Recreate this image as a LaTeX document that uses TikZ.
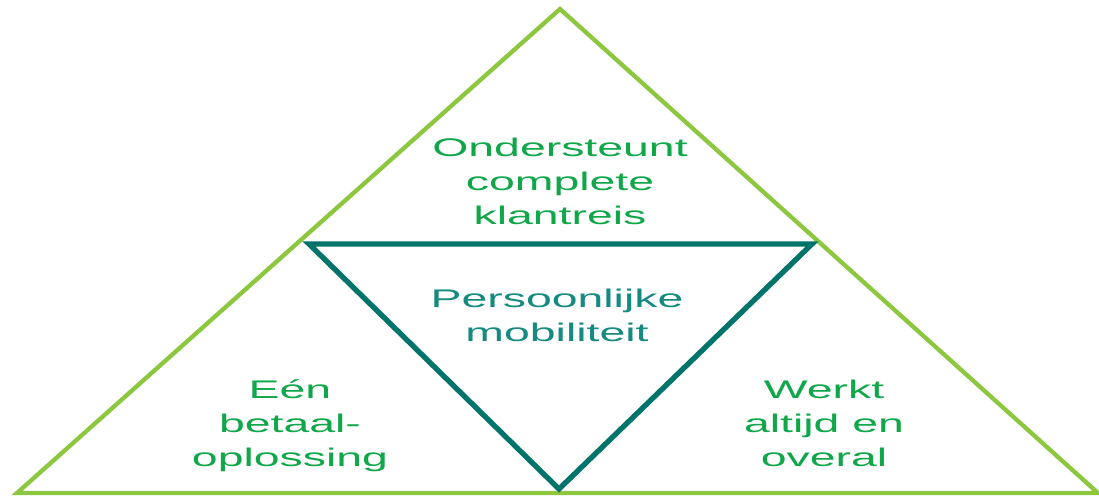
\documentclass[tikz,border=0pt]{standalone}
\usepackage{fontspec}
\setmainfont{Liberation Sans}
\newfontfamily\widefont[FakeStretch=1.82]{Liberation Sans}
\definecolor{outergreen}{HTML}{8DC63F}
\definecolor{innerteal}{HTML}{00736A}
\definecolor{textgreen}{HTML}{10A64A}
\definecolor{textteal}{HTML}{148A80}
\begin{document}
\begin{tikzpicture}[x=1pt,y=1pt,
  outerline/.style={draw=outergreen,line width=4.3pt,line join=miter},
  innerline/.style={draw=innerteal,line width=5.3pt,line join=miter},
  lbl/.style={font=\widefont\fontsize{25.5}{34}\selectfont,align=center,inner sep=0pt,anchor=base},
]
\useasboundingbox (0,0) rectangle (1099,495);
\coordinate (apex) at (560,486);
\coordinate (bl) at (17,2);
\coordinate (br) at (1098,2);
\coordinate (il) at (309,251);
\coordinate (ir) at (812,251);
\coordinate (ib) at (559,6);
\draw[outerline] (bl) -- (apex) -- (br) -- cycle;
\draw[innerline] (il) -- (ir) -- (ib) -- cycle;
\node[lbl,text=textgreen] (top) at (560,270) {Ondersteunt\\complete\\klantreis};
\node[lbl,text=textteal] (mid) at (557,153) {Persoonlijke\\mobiliteit};
\node[lbl,text=textgreen] (left) at (290,29) {Eén\\betaal-\\oplossing};
\node[lbl,text=textgreen] (right) at (824,29) {Werkt\\altijd en\\overal};
\end{tikzpicture}
\end{document}
